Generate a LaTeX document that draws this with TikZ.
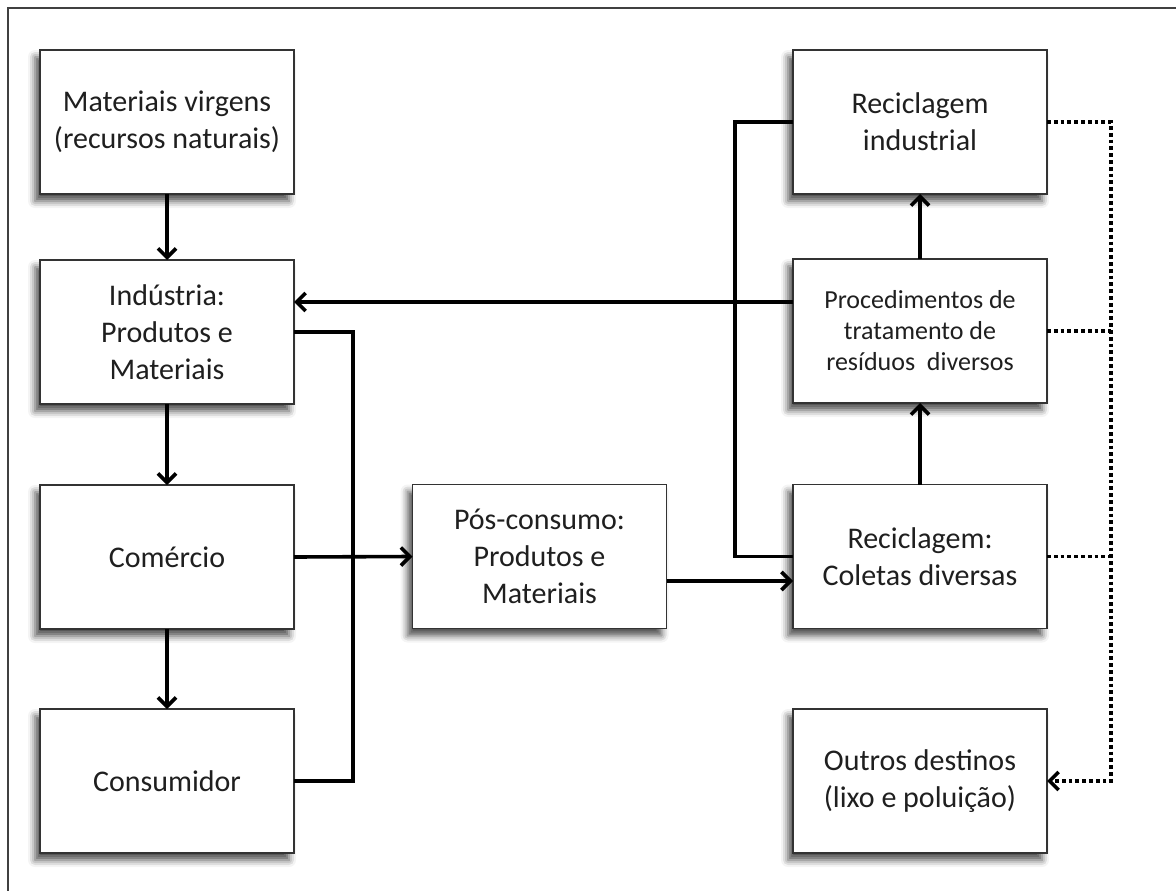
\documentclass[tikz,border=0pt]{standalone}
\usepackage{fontspec}
\setmainfont{Carlito}
\usetikzlibrary{arrows.meta,shadows.blur,calc}
\tikzset{
  box/.style={draw=black!80, line width=1.6pt, fill=white, minimum width=254pt, minimum height=144pt,
    inner sep=0pt, outer sep=0pt, align=center, text=black!88,
    font=\fontsize{30}{37}\selectfont,
    blur shadow={shadow xshift=-5pt, shadow yshift=-7pt, shadow blur radius=7pt, shadow opacity=70}},
  smallbox/.style={box, font=\fontsize{26}{31}\selectfont},
  conn/.style={line width=3.6pt, black},
  arr/.style={conn, -{Straight Barb[length=9pt,width=18pt,line width=3.6pt]}},
  dot/.style={line width=3.8pt, black, dash pattern=on 3.8pt off 3pt},
  dotarr/.style={dot, -{Straight Barb[length=9pt,width=18pt,line width=3.6pt]}},
  frameline/.style={line width=1.8pt, black!75}
}
\begin{document}
\begin{tikzpicture}[x=1pt,y=-1pt]
\useasboundingbox (0,0) rectangle (1176,891);
\coordinate (fb) at (8,891);
\coordinate (fc) at (8,8);
\coordinate (fr) at (1176,8);
\draw[frameline] (fb) -- (fc) -- (fr);

\node[box] (mv) at (167,122) {Materiais virgens\\(recursos naturais)};
\node[box] (ind) at (167,332) {Indústria:\\Produtos e\\Materiais};
\node[box] (com) at (167,557) {Comércio};
\node[box] (cons) at (167,781) {Consumidor};
\node[box] (pos) at (539.5,556.5) {Pós-consumo:\\Produtos e\\Materiais};
\node[box] (ri) at (920,122) {Reciclagem\\industrial};
\node[smallbox] (proc) at (920,331) {Procedimentos de\\tratamento de\\resíduos\ \ diversos};
\node[box] (rc) at (920,556.5) {Reciclagem:\\Coletas diversas};
\node[box] (out) at (920,781) {Outros destinos\\(lixo e poluição)};

% left column
\draw[arr] (mv.south) -- (ind.north);
\draw[arr] (ind.south) -- (com.north);
\draw[arr] (com.south) -- (cons.north);
\draw[conn] (ind.east) -- ++(59,0) |- (cons.east);
\draw[arr] (com.east) -- (pos.west);

% middle
\coordinate (pe) at ($(pos.east)+(0,24.5)$);
\draw[arr] (pe) -- (pe -| rc.west);

% right column
\coordinate (pw) at ($(proc.west)+(0,-29)$);
\draw[arr] (pw) -- (pw -| ind.east);
\draw[conn] (ri.west) -- ++(-58,0) |- (rc.west);
\draw[arr] (proc.north) -- (ri.south);
\draw[arr] (rc.north) -- (proc.south);

% dotted
\coordinate (dr) at (1111,0);
\draw[dotarr] (ri.east) -- (ri.east -| dr) |- (out.east);
\draw[dot] (proc.east) -- (proc.east -| dr);
\draw[dot] (rc.east) -- (rc.east -| dr);
\end{tikzpicture}
\end{document}
